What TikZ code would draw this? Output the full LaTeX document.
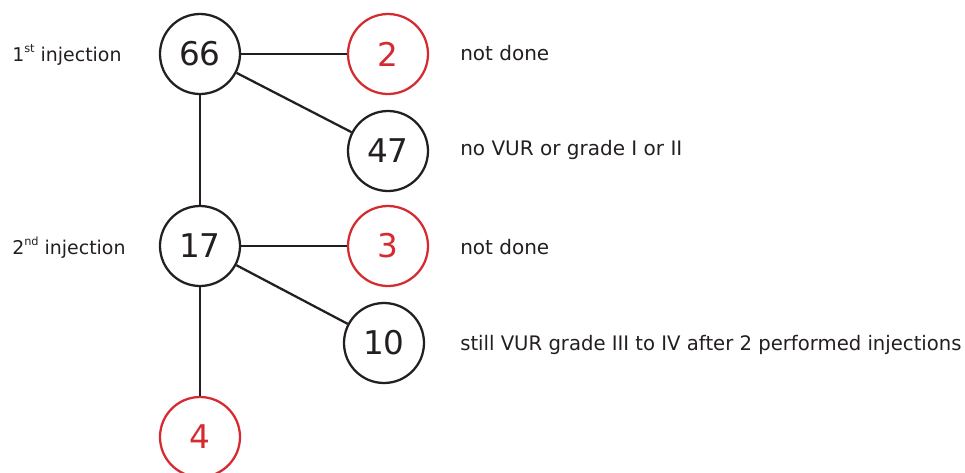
\documentclass[tikz,border=0pt]{standalone}
\usepackage{fontspec}
\setmainfont{DejaVu Sans}
\usepackage{xcolor}
\usepackage{graphicx}
\usepackage{tikz}

\definecolor{ink}{RGB}{35,31,32}
\definecolor{notdone}{RGB}{213,43,48}

% small raised ordinal suffix
\newcommand{\ordsuf}[1]{\raisebox{0.45em}{\fontsize{8.5}{9}\selectfont #1}}

\tikzset{
  count/.style={circle,draw=ink,line width=1.7pt,minimum size=60pt,inner sep=0pt,
    text=ink,font=\fontsize{24.5}{25}\selectfont},
  missed/.style={count,draw=notdone,text=notdone},
  note/.style={anchor=base west,inner sep=0pt,text=ink,font=\fontsize{15}{18}\selectfont},
  step label/.style={note,font=\fontsize{14.2}{17}\selectfont},
  link/.style={draw=ink,line width=1.7pt}
}

\begin{document}
\begin{tikzpicture}[x=0.75pt,y=-0.75pt]
\useasboundingbox (0,0) rectangle (965,472);

% counts per step
\node[count]  (n66) at (200,54)  {66};
\node[missed] (n2)  at (388,54)  {2};
\node[count]  (n47) at (388,151) {47};
\node[count]  (n17) at (200,246) {17};
\node[missed] (n3)  at (388,246) {3};
\node[count]  (n10) at (384,343) {10};
\node[missed] (n4)  at (200,437) {4};

\draw[link] (n66) -- (n2);
\draw[link] (n66) -- (n47);
\draw[link] (n66) -- (n17);
\draw[link] (n17) -- (n3);
\draw[link] (n17) -- (n10);
\draw[link] (n17) -- (n4);

% left and right labels
\node[step label] (first)  at (12,61)  {1\ordsuf{st} injection};
\node[step label] (second) at (12,254) {2\ordsuf{nd} injection};
\node[note] (nd1)    at (460,60)  {not done};
\node[note] (ok)     at (460,155) {no VUR or grade I or II};
\node[note] (nd2)    at (460,254) {not done};
\node[note] (still)  at (460,350)
  {\resizebox{376pt}{\height}{still VUR grade III to IV after 2 performed injections}};
\end{tikzpicture}
\end{document}
